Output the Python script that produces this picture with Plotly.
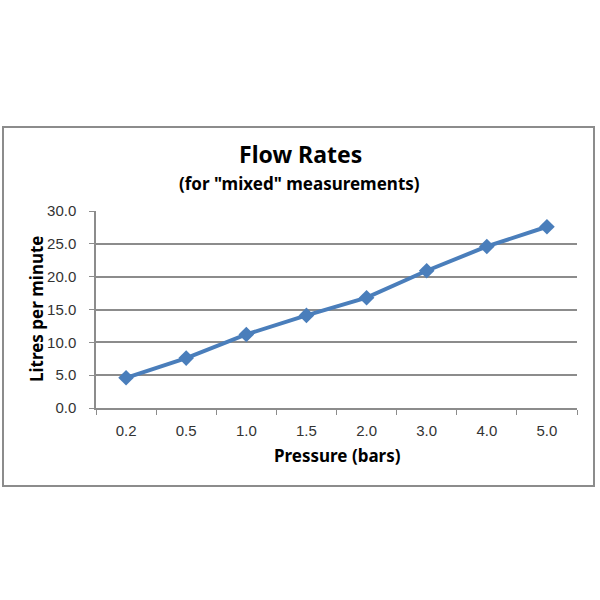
import plotly.graph_objects as go

pressure = ["0.2", "0.5", "1.0", "1.5", "2.0", "3.0", "4.0", "5.0"]
flow = [4.6, 7.6, 11.2, 14.1, 16.8, 20.9, 24.6, 27.6]
y_ticks = [0, 5, 10, 15, 20, 25, 30]

L, R, T, B = 96, 577, 211, 408
W = R - L
H = B - T

def px(x):
    return (x - L) / W

def py(y):
    return (B - y) / H

fig = go.Figure()
fig.add_trace(go.Scatter(
    x=pressure, y=flow, mode="lines+markers",
    line=dict(color="#4A7EBB", width=4),
    marker=dict(symbol="diamond", size=12, color="#4A7EBB"),
    showlegend=False,
))

fig.update_layout(
    width=600, height=600,
    margin=dict(l=L, r=600 - R, t=T, b=600 - B),
    paper_bgcolor="white", plot_bgcolor="white",
    font=dict(family="Liberation Sans, Arial, sans-serif", color="#333333"),
)
fig.update_xaxes(
    type="category", tickson="boundaries", ticks="outside", ticklen=5,
    tickcolor="#8c8c8c", showline=True, linecolor="#8c8c8c", linewidth=1.5,
    showgrid=False, tickfont=dict(size=15, color="#333333"),
    ticklabelstandoff=8, range=[-0.5, 7.5],
)
fig.update_yaxes(
    range=[0, 30], tickvals=y_ticks, tickformat=".1f", ticks="outside", ticklen=5,
    tickcolor="#8c8c8c", showline=True, linecolor="#8c8c8c", linewidth=1.5,
    showgrid=True, gridcolor="#8c8c8c", gridwidth=1.5, zeroline=False,
    tickfont=dict(size=15, color="#333333"), ticklabelstandoff=10,
)

bold = "Noto Sans, DejaVu Sans, sans-serif"
fig.add_annotation(text="<b>Flow Rates</b>", x=px(300), y=py(154), xref="paper", yref="paper",
                   xanchor="center", yanchor="middle", showarrow=False,
                   font=dict(family=bold, size=23, color="black"))
fig.add_annotation(text='<b>(for "mixed" measurements)</b>', x=px(299), y=py(183), xref="paper", yref="paper",
                   xanchor="center", yanchor="middle", showarrow=False,
                   font=dict(family=bold, size=17, color="black"))
fig.add_annotation(text="<b>Pressure (bars)</b>", x=px(337), y=py(455), xref="paper", yref="paper",
                   xanchor="center", yanchor="middle", showarrow=False,
                   font=dict(family=bold, size=17, color="black"))
fig.add_annotation(text="<b>Litres per minute</b>", x=px(36), y=py(309), xref="paper", yref="paper",
                   xanchor="center", yanchor="middle", showarrow=False, textangle=-90,
                   font=dict(family=bold, size=17, color="black"))

fig.add_shape(type="rect", xref="paper", yref="paper",
              x0=px(3), x1=px(594), y0=py(486), y1=py(127),
              line=dict(color="#8c8c8c", width=2), layer="below")

fig.write_html("out.html")
